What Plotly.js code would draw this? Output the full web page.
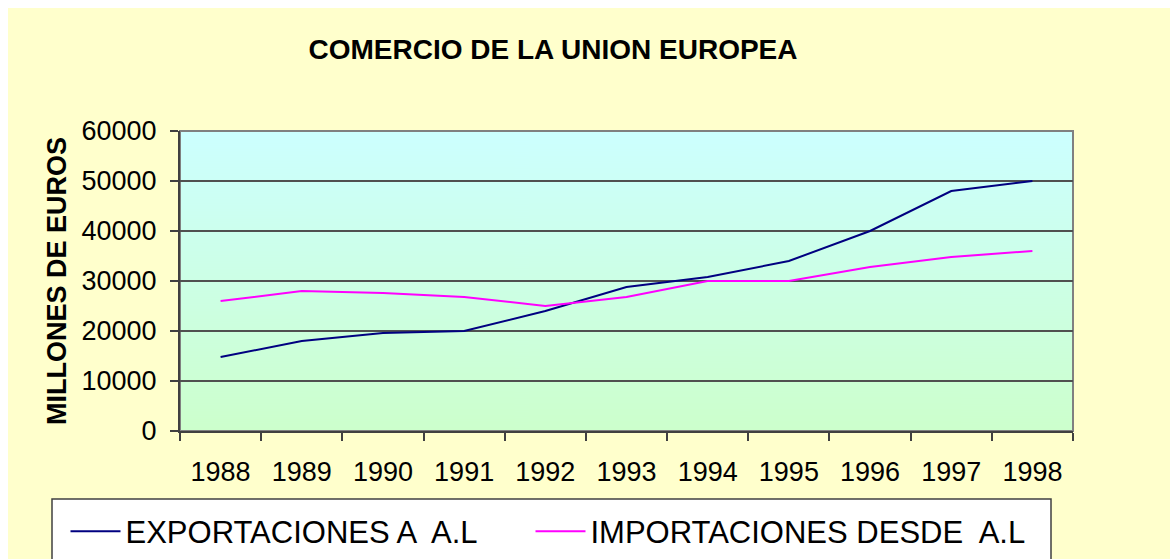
<!DOCTYPE html>
<html>
<head>
<meta charset="utf-8">
<script src="https://cdn.plot.ly/plotly-3.0.1.min.js"></script>
<style>
  html, body { margin: 0; padding: 0; background: #ffffff; }
  #chart { width: 1170px; height: 559px; }
</style>
</head>
<body>
<div id="chart"></div>
<script>
// ---- Data ----
const years = ['1988','1989','1990','1991','1992','1993','1994','1995','1996','1997','1998'];
const exportaciones = [14800, 18000, 19600, 20000, 24000, 28800, 30800, 34000, 40000, 48000, 50000];
const importaciones = [26000, 28000, 27600, 26800, 25000, 26800, 30000, 30000, 32800, 34800, 36000];
const seriesNames = ['EXPORTACIONES A  A.L', 'IMPORTACIONES DESDE  A.L'];
const chartTitle = 'COMERCIO DE LA UNION EUROPEA';
const yTitle = 'MILLONES DE EUROS';

// ---- Plot-area background gradient ----
const cv = document.createElement('canvas');
cv.width = 4; cv.height = 300;
const ctx = cv.getContext('2d');
const g = ctx.createLinearGradient(0, 0, 0, 300);
g.addColorStop(0, '#CCFFFF');
g.addColorStop(1, '#CCFFCC');
ctx.fillStyle = g;
ctx.fillRect(0, 0, 4, 300);
const gradURL = cv.toDataURL('image/png');

const W = 1170, H = 559;
const L = 180, R = 1073, T = 131, B = 431;
const pw = R - L, ph = B - T;
const px = v => (v - L) / pw;      // pixel -> paper x
const py = v => (B - v) / ph;      // pixel -> paper y

const FONT = 'Liberation Sans, Arial, sans-serif';

const traces = [
  { x: years, y: exportaciones, name: seriesNames[0], type: 'scatter', mode: 'lines',
    line: { color: '#000080', width: 2 }, legend: 'legend' },
  { x: years, y: importaciones, name: seriesNames[1], type: 'scatter', mode: 'lines',
    line: { color: '#FF00FF', width: 2 }, legend: 'legend2' }
];

const legendCommon = {
  orientation: 'h',
  xanchor: 'left',
  y: py(503), yanchor: 'top',
  bgcolor: 'rgba(0,0,0,0)', bordercolor: 'rgba(0,0,0,0)', borderwidth: 1.5,
  font: { family: FONT, size: 31, color: '#000000' },
  itemwidth: 50, indentation: 12,
  itemclick: false, itemdoubleclick: false
};

const layout = {
  width: W, height: H,
  margin: { l: L, r: W - R, t: T, b: H - B, pad: 0, autoexpand: false },
  paper_bgcolor: '#FFFFCC',
  plot_bgcolor: 'rgba(0,0,0,0)',
  font: { family: FONT, color: '#000000', size: 26 },
  title: {
    text: chartTitle,
    font: { family: FONT, size: 28, weight: 700, color: '#000000' },
    xref: 'container', x: 553 / W, xanchor: 'center',
    yref: 'container', y: 1 - 49 / H, yanchor: 'middle'
  },
  xaxis: {
    type: 'category',
    range: [-0.5, years.length - 0.5],
    showgrid: false,
    showline: true, linecolor: '#404040', linewidth: 2,
    ticks: 'outside', tickson: 'boundaries', ticklen: 8, tickwidth: 1.5, tickcolor: '#404040',
    tickfont: { family: FONT, size: 27, color: '#000000' },
    ticklabelstandoff: 16,
    zeroline: false, fixedrange: true
  },
  yaxis: {
    range: [0, 60000], dtick: 10000, tick0: 0, tickformat: 'd',
    showgrid: true, gridcolor: '#505050', gridwidth: 1.5,
    showline: true, linecolor: '#404040', linewidth: 2,
    ticks: 'outside', ticklen: 8, tickwidth: 1.5, tickcolor: '#404040',
    tickfont: { family: FONT, size: 27, color: '#000000' },
    ticklabelstandoff: 8,
    zeroline: false, fixedrange: true,
    title: { text: yTitle, font: { family: FONT, size: 27, weight: 700, color: '#000000' }, standoff: 7 }
  },
  showlegend: true,
  legend: Object.assign({}, legendCommon, { x: px(52) }),
  legend2: Object.assign({}, legendCommon, { x: px(517) }),
  images: [{
    source: gradURL, xref: 'paper', yref: 'paper',
    x: 0, y: 1, sizex: 1, sizey: 1, xanchor: 'left', yanchor: 'top',
    sizing: 'stretch', layer: 'below'
  }],
  shapes: [
    { type: 'rect', xref: 'paper', yref: 'paper', x0: px(-5), x1: px(8), y0: py(570), y1: py(-5),
      fillcolor: '#FFFFFF', line: { width: 0 }, layer: 'below' },
    { type: 'rect', xref: 'paper', yref: 'paper', x0: px(-5), x1: px(1180), y0: py(8), y1: py(-5),
      fillcolor: '#FFFFFF', line: { width: 0 }, layer: 'below' },
    { type: 'rect', xref: 'paper', yref: 'paper', x0: 0, x1: 1, y0: 0, y1: 1,
      line: { color: '#808080', width: 2 }, fillcolor: 'rgba(0,0,0,0)', layer: 'below' },
    // legend box
    { type: 'rect', xref: 'paper', yref: 'paper', x0: px(52), x1: px(1051), y0: py(575), y1: py(499),
      line: { color: '#404040', width: 1.5 }, fillcolor: '#FFFFFF', layer: 'below' }
  ]
};

Plotly.newPlot('chart', traces, layout, { displayModeBar: false });
</script>
</body>
</html>
